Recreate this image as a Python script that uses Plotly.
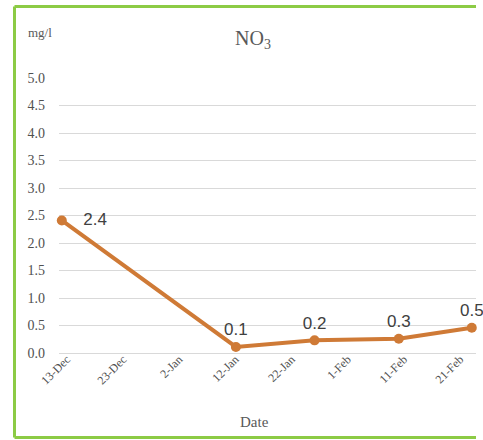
import plotly.graph_objects as go

# NO3 readings (mg/l)
dates = ["2019-12-13", "2020-01-13", "2020-01-27", "2020-02-11", "2020-02-24"]
no3 = [2.41, 0.11, 0.23, 0.26, 0.46]
label_pos = ["middle right", "top center", "top center", "top center", "top center"]
label_fmt = ["   %{y:.1f}", "%{y:.1f}", "%{y:.1f}", "%{y:.1f}", "%{y:.1f}"]

tick_dates = ["2019-12-13", "2019-12-23", "2020-01-02", "2020-01-12",
              "2020-01-22", "2020-02-01", "2020-02-11", "2020-02-21"]
tick_text = ["13-Dec", "23-Dec", "2-Jan", "12-Jan", "22-Jan", "1-Feb", "11-Feb", "21-Feb"]
y_ticks = [0, 0.5, 1, 1.5, 2, 2.5, 3, 3.5, 4, 4.5, 5]

LINE_COLOR = "#CF7A36"
GRAY = "#595959"
BORDER = "#8CCB45"
SERIF = "Liberation Serif, DejaVu Serif, serif"

fig = go.Figure()
fig.add_trace(
    go.Scatter(
        x=dates,
        y=no3,
        mode="lines+markers+text",
        line=dict(color=LINE_COLOR, width=4),
        marker=dict(color=LINE_COLOR, size=10),
        texttemplate=label_fmt,
        textposition=label_pos,
        textfont=dict(family="Liberation Sans, Arial, sans-serif", size=17, color="#404040"),
        cliponaxis=False,
        showlegend=False,
        hoverinfo="skip",
    )
)

fig.update_layout(
    width=483,
    height=440,
    margin=dict(l=59, r=7, t=78, b=87),
    paper_bgcolor="white",
    plot_bgcolor="white",
    xaxis=dict(
        type="date",
        range=["2019-12-12 12:00", "2020-02-24 18:00"],
        tickvals=tick_dates,
        ticktext=tick_text,
        tickangle=-45,
        tickfont=dict(family=SERIF, size=12, color="#505050"),
        showgrid=False,
        zeroline=False,
        showline=False,
        ticks="",
        ticklabelshift=5,
        ticklabelstandoff=-4,
    ),
    yaxis=dict(
        range=[0, 5],
        tickvals=y_ticks,
        tickformat=".1f",
        tickfont=dict(family=SERIF, size=14, color="#505050"),
        showgrid=True,
        gridcolor="#D9D9D9",
        gridwidth=1,
        zeroline=True,
        zerolinecolor="#D9D9D9",
        zerolinewidth=1,
        ticks="",
        ticklabelstandoff=13,
    ),
)

# title, unit and axis title placed like the original
fig.add_annotation(
    xref="paper", yref="paper", x=0.465, y=1.14,
    xanchor="center", yanchor="middle",
    text="NO<sub>3</sub>", showarrow=False,
    font=dict(family=SERIF, size=20, color=GRAY),
)
fig.add_annotation(
    xref="paper", yref="paper", x=-0.08, y=1.165,
    xanchor="left", yanchor="middle",
    text="mg/l", showarrow=False,
    font=dict(family=SERIF, size=13, color=GRAY),
)
fig.add_annotation(
    xref="paper", yref="paper", x=0.47, y=-0.25,
    xanchor="center", yanchor="middle",
    text="Date", showarrow=False,
    font=dict(family=SERIF, size=15, color=GRAY),
)

# green chart border: top, left, bottom (right side falls outside the image)
left, top, bottom, right = -0.1067, 1.26, -0.3073, 1.0
for x0, y0, x1, y1 in [(left, top, right, top), (left, top, left, bottom), (left, bottom, right, bottom)]:
    fig.add_shape(type="line", xref="paper", yref="paper",
                  x0=x0, y0=y0, x1=x1, y1=y1, line=dict(color=BORDER, width=3))

fig.write_html(
    "out.html",
    config={"displayModeBar": False},
    post_script="document.body.style.margin='0';document.body.style.overflow='hidden';",
)
